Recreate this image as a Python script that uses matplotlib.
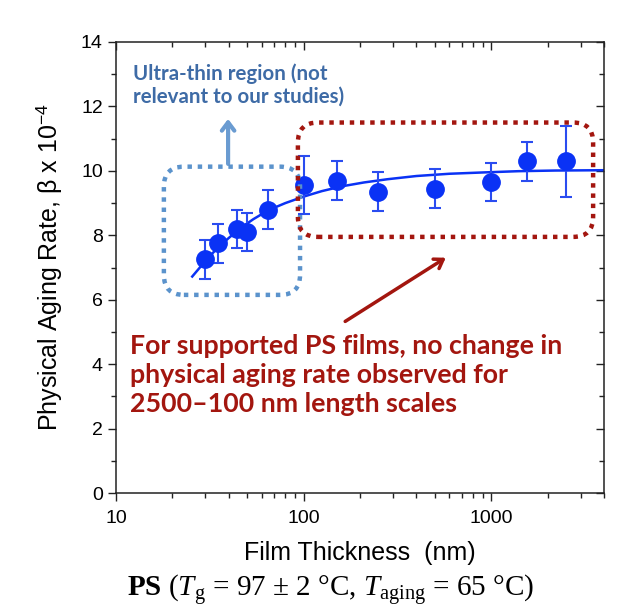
import matplotlib
matplotlib.use("Agg")
import matplotlib.pyplot as plt
from matplotlib.patches import FancyBboxPatch
from matplotlib.transforms import IdentityTransform
from matplotlib.ticker import LogLocator, MultipleLocator, FixedLocator, NullFormatter

plt.rcParams['font.family'] = ['Liberation Sans', 'DejaVu Sans']
plt.rcParams['mathtext.fontset'] = 'custom'
plt.rcParams['mathtext.rm'] = 'Liberation Serif'
plt.rcParams['mathtext.it'] = 'Liberation Serif:italic'
plt.rcParams['mathtext.bf'] = 'Liberation Serif:bold'
plt.rcParams['mathtext.sf'] = 'Liberation Sans'

# measured points (film thickness in nm, aging rate x 1e-4, error)
thickness = [30, 35, 44, 50, 65, 100, 150, 250, 500, 1000, 1550, 2500]
beta = [7.25, 7.75, 8.2, 8.1, 8.8, 9.55, 9.7, 9.35, 9.45, 9.65, 10.3, 10.3]
beta_err = [0.6, 0.6, 0.6, 0.6, 0.6, 0.9, 0.6, 0.6, 0.6, 0.6, 0.6, 1.1]

# fit curve
fit_x = [25.5, 28, 31, 35, 40, 46, 54, 65, 80, 100, 125, 160, 210, 280, 400, 600, 900, 1400, 2200, 4000]
fit_y = [6.72, 7.0, 7.3, 7.62, 7.92, 8.22, 8.5, 8.78, 9.0, 9.2, 9.37, 9.52, 9.64, 9.74, 9.84, 9.91, 9.95, 9.99, 10.01, 10.02]

blue = '#0a32f5'
box_blue = '#5b93cc'
text_blue = '#3e6ba6'
red = '#a3160f'

fig = plt.figure(figsize=(6.23, 6.13), dpi=100)
ax = fig.add_axes([116 / 623, 1 - 493 / 613, 488 / 623, 451 / 613])

ax.plot(fit_x, fit_y, color=blue, lw=1.8, zorder=2)
ax.errorbar(thickness, beta, yerr=beta_err, fmt='o', color=blue, ms=12.5,
            ecolor='#2a4cf0', elinewidth=1.5, capsize=4.5, capthick=1.5, zorder=3)

ax.set_xscale('log')
ax.set_xlim(10, 4000)
ax.set_ylim(0, 14)
ax.xaxis.set_major_locator(FixedLocator([10, 100, 1000]))
ax.xaxis.set_major_formatter(matplotlib.ticker.FixedFormatter(['10', '100', '1000']))
ax.xaxis.set_minor_locator(LogLocator(base=10, subs=range(2, 10)))
ax.xaxis.set_minor_formatter(NullFormatter())
ax.yaxis.set_major_locator(MultipleLocator(2))
ax.yaxis.set_minor_locator(MultipleLocator(1))
ax.tick_params(which='both', top=True, right=True, labelsize=14, color='#222222')
ax.tick_params(which='major', length=6, width=1)
ax.tick_params(which='minor', length=3.5, width=1)
ax.tick_params(axis='x', which='major', pad=6)
for s in ax.spines.values():
    s.set_linewidth(1.1)
    s.set_color('#222222')

# ticks on top/right point inward, bottom/left outward
for t in ax.xaxis.get_major_ticks() + ax.xaxis.get_minor_ticks():
    t.tick2line.set_marker(3)
for t in ax.yaxis.get_major_ticks() + ax.yaxis.get_minor_ticks():
    t.tick2line.set_marker(0)

ax.set_xlabel('Film Thickness  (nm)', fontsize=18, labelpad=10)
ax.set_ylabel(r'Physical Aging Rate, β x 10$^{\mathsf{-4}}$', fontsize=18, labelpad=12)

fig.canvas.draw()


def to_px(x, y):
    return ax.transData.transform((x, y))


def rounded_box(x0, y0, x1, y1, color):
    (px0, py0), (px1, py1) = to_px(x0, y0), to_px(x1, y1)
    box = FancyBboxPatch((px0, py0), px1 - px0, py1 - py0,
                         boxstyle='round,pad=0,rounding_size=20',
                         transform=IdentityTransform(), fill=False,
                         edgecolor=color, lw=3.2, linestyle=(0, (1, 1.3)),
                         capstyle='butt', zorder=4)
    fig.patches.append(box)


rounded_box(18.0, 6.15, 95.8, 10.13, box_blue)
rounded_box(93.3, 7.95, 3500, 11.5, red)

ax.annotate('', xy=(39.6, 11.7), xytext=(39.6, 10.13),
            arrowprops=dict(arrowstyle='->,head_length=0.6,head_width=0.45',
                            color='#6a9bd1', lw=3))
ax.annotate('', xy=(590, 7.35), xytext=(162, 5.28),
            arrowprops=dict(arrowstyle='->,head_length=0.6,head_width=0.4',
                            color=red, lw=2.5))

ax.text(12.3, 13.35, 'Ultra-thin region (not\nrelevant to our studies)',
        color=text_blue, fontsize=14.8, fontweight='bold', family='Lato',
        va='top', ha='left', linespacing=1.2)
ax.text(11.9, 4.95, 'For supported PS films, no change in\nphysical aging rate observed for\n2500\u2013100 nm length scales',
        color=red, fontsize=19.3, fontweight='bold', family='Lato',
        va='top', ha='left', linespacing=1.25)

fig.text(331 / 623, 0.037, r'$\mathbf{PS}$ ($T_{\mathrm{g}}$ = 97 ± 2 °C, $T_{\mathrm{aging}}$ = 65 °C)',
         family='Liberation Serif', fontsize=21, ha='center', va='center')

fig.savefig('out.png', dpi=100)
